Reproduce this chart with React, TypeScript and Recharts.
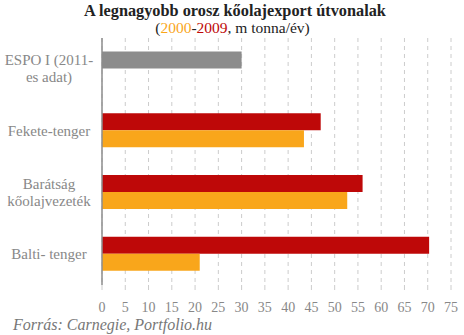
import { BarChart, Bar, XAxis, YAxis, CartesianGrid } from "recharts";

const categories = [
  "ESPO I (2011-|es adat)",
  "Fekete-tenger",
  "Barátság|kőolajvezeték",
  "Balti- tenger",
];
const espo2011 = [30, null, null, null];
const year2009 = [null, 47, 56, 70.3];
const year2000 = [null, 43.4, 52.7, 21];
const xTicks = [0, 5, 10, 15, 20, 25, 30, 35, 40, 45, 50, 55, 60, 65, 70, 75];

const data = categories.map((name, i) => ({
  name,
  espo: espo2011[i],
  y2009: year2009[i],
  y2000: year2000[i],
}));

const FONT = "'Liberation Serif', serif";

function CategoryTick({ y, payload }: any) {
  const lines = String(payload.value).split("|");
  const lineH = 17;
  const startY = y - ((lines.length - 1) * lineH) / 2;
  return (
    <text
      x={49}
      y={startY}
      textAnchor="middle"
      fill="#888"
      fontSize={15}
      style={{ fontFamily: FONT }}
      dominantBaseline="central"
    >
      {lines.map((l, i) => (
        <tspan key={i} x={49} y={startY + i * lineH}>
          {l}
        </tspan>
      ))}
    </text>
  );
}

function NumberTick({ x, y, payload }: any) {
  return (
    <text
      x={x}
      y={y + 20}
      textAnchor="middle"
      fill="#888"
      fontSize={14}
      style={{ fontFamily: FONT }}
    >
      {payload.value}
    </text>
  );
}

export default function App() {
  return (
    <div
      style={{
        position: "absolute",
        left: 0,
        top: 0,
        width: 464,
        height: 335,
        background: "#fff",
        fontFamily: FONT,
      }}
    >
      <div
        style={{
          position: "absolute",
          top: 1,
          left: 0,
          width: 470,
          textAlign: "center",
          fontWeight: "bold",
          fontSize: 16.3,
          color: "#222",
          whiteSpace: "nowrap",
        }}
      >
        A legnagyobb orosz kőolajexport útvonalak
      </div>
      <div
        style={{
          position: "absolute",
          top: 19,
          left: 0,
          width: 465,
          textAlign: "center",
          fontSize: 15.5,
          color: "#222",
          whiteSpace: "nowrap",
        }}
      >
        (<span style={{ color: "#F9A61B" }}>2000</span>-
        <span style={{ color: "#BE0808" }}>2009</span>, m tonna/év)
      </div>

      <BarChart
        width={464}
        height={335}
        data={data}
        layout="vertical"
        margin={{ top: 38, right: 13, bottom: 20, left: 5 }}
        barGap={0}
        barCategoryGap={13.5}
      >
        <CartesianGrid
          horizontal={false}
          stroke="#ccc"
          strokeDasharray="4 4"
        />
        <XAxis
          type="number"
          domain={[0, 75]}
          ticks={xTicks}
          interval={0}
          height={30}
          axisLine={false}
          tickLine={{ stroke: "#ccc" }}
          tickSize={5}
          tick={<NumberTick />}
        />
        <YAxis
          type="category"
          dataKey="name"
          width={97}
          axisLine={{ stroke: "#8c8c8c", strokeWidth: 1.5 }}
          tickLine={false}
          tick={<CategoryTick />}
        />
        <Bar dataKey="espo" stackId="a" fill="#8C8C8C" isAnimationActive={false} />
        <Bar dataKey="y2009" stackId="a" fill="#BE0808" isAnimationActive={false} />
        <Bar dataKey="y2000" fill="#F9A61B" isAnimationActive={false} />
      </BarChart>

      <div
        style={{
          position: "absolute",
          left: 13,
          top: 316,
          fontSize: 16,
          fontStyle: "italic",
          color: "#777",
          whiteSpace: "nowrap",
        }}
      >
        Forrás: Carnegie, Portfolio.hu
      </div>
    </div>
  );
}
